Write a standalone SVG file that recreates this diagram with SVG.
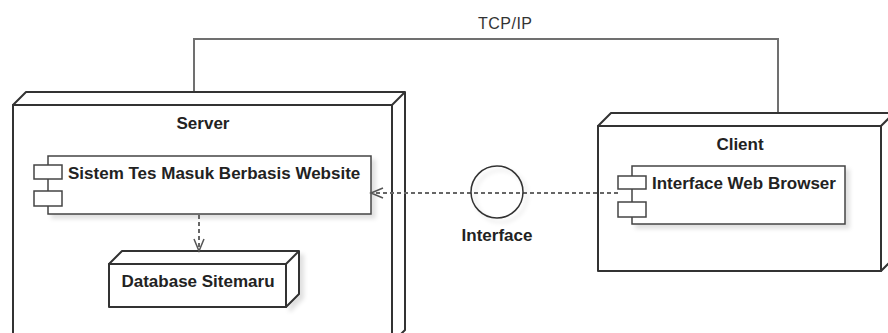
<svg xmlns="http://www.w3.org/2000/svg" width="888" height="333" viewBox="0 0 888 333">
<defs>
<style>
.node{fill:#fff;stroke:#333;stroke-width:2;stroke-linejoin:round}
.comp{fill:#fff;stroke:#444;stroke-width:1.5}
.lbl{font-family:"Liberation Sans",Arial,sans-serif;font-weight:bold;font-size:17px;fill:#222}
.conn{fill:none;stroke:#707070;stroke-width:2}
.dash{fill:none;stroke:#666;stroke-width:2;stroke-dasharray:4 3}
.head{fill:none;stroke:#555;stroke-width:1.5}
</style>
<filter id="sh" x="-10%" y="-10%" width="130%" height="140%">
<feDropShadow dx="4" dy="4" stdDeviation="2" flood-color="#000" flood-opacity="0.12"/>
</filter>
</defs>
<rect width="888" height="333" fill="#fff"/>
<g id="connectors">
<polyline class="conn" points="194,105 194,39 778,39 778,126"/>
<text x="505" y="29" text-anchor="middle" font-family="'Liberation Sans',Arial,sans-serif" font-size="16" fill="#333" textLength="54">TCP/IP</text>
</g>
<g id="server">
<polygon class="node" points="13,105 26,92 405,92 405,330 392,343 392,105"/>
<line class="node" x1="392" y1="105" x2="405" y2="92"/>
<rect class="node" x="13" y="105" width="379" height="240"/>
<text class="lbl" x="203" y="129" text-anchor="middle">Server</text>
</g>
<g id="client">
<polygon class="node" points="598,126 611,113 894,113 894,258 881,271 881,126"/>
<line class="node" x1="881" y1="126" x2="894" y2="113"/>
<rect class="node" x="598" y="126" width="283" height="145"/>
<text class="lbl" x="740" y="150" text-anchor="middle">Client</text>
</g>
<g id="comp-sistem">
<rect class="comp" x="48" y="156" width="323" height="58" filter="url(#sh)"/>
<rect class="comp" x="34" y="165" width="28" height="14"/>
<rect class="comp" x="34" y="191" width="28" height="15"/>
<text class="lbl" x="68" y="179">Sistem Tes Masuk Berbasis Website</text>
</g>
<g id="database">
<polygon class="node" points="109,264 122,251 299,251 299,294 286,307 286,264" filter="url(#sh)"/>
<line class="node" x1="286" y1="264" x2="299" y2="251"/>
<rect class="node" x="109" y="264" width="177" height="43"/>
<text class="lbl" x="198" y="287" text-anchor="middle">Database Sitemaru</text>
</g>
<g id="comp-browser">
<rect class="comp" x="632" y="166" width="213" height="58" filter="url(#sh)"/>
<text class="lbl" x="652" y="189">Interface Web Browser</text>
</g>
<g id="connectors-dep">
<line class="dash" x1="199" y1="215" x2="199" y2="250"/>
<polyline class="head" points="194,239 199,251 204,239"/>
<line class="dash" x1="618" y1="193" x2="373" y2="193"/>
<polyline class="head" points="383,188 371,193 383,198"/>
</g>
<g id="interface">
<circle cx="497" cy="192" r="26" fill="none" stroke="#333" stroke-width="1.5" filter="url(#sh)"/>
<text class="lbl" x="497" y="241" text-anchor="middle">Interface</text>
</g>
<g id="comp-browser-ports">
<rect class="comp" x="618" y="176" width="28" height="13"/>
<rect class="comp" x="618" y="202" width="28" height="15"/>
</g>
</svg>
